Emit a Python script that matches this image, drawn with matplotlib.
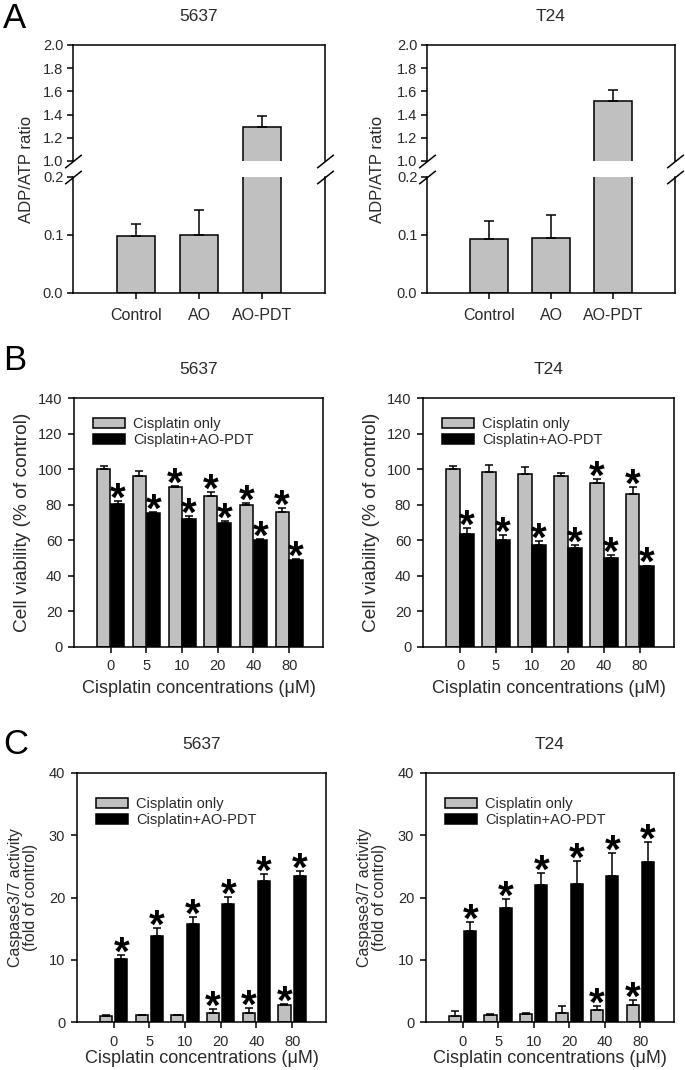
import numpy as np
import matplotlib
matplotlib.use("Agg")
import matplotlib.pyplot as plt

plt.rcParams['font.family'] = ['Liberation Sans', 'DejaVu Sans']

# ---- data ----
a_groups = ['Control', 'AO', 'AO-PDT']
a_5637_mean = [0.098, 0.100, 1.29]
a_5637_err = [0.021, 0.043, 0.095]
a_t24_mean = [0.093, 0.094, 1.52]
a_t24_err = [0.031, 0.040, 0.09]

conc = ['0', '5', '10', '20', '40', '80']
series_names = ['Cisplatin only', 'Cisplatin+AO-PDT']

b_5637_cis = [100.0, 95.9, 90.0, 85.0, 80.0, 75.8]
b_5637_cis_err = [1.5, 3.2, 0.5, 2.0, 0.9, 2.2]
b_5637_combo = [80.3, 75.4, 72.2, 70.0, 60.0, 48.8]
b_5637_combo_err = [1.7, 0.3, 1.5, 0.6, 0.5, 0.5]
b_5637_cis_sig = [False, False, True, True, True, True]
b_5637_combo_sig = [True, True, True, True, True, True]

b_t24_cis = [100.2, 98.5, 97.5, 96.4, 92.3, 86.2]
b_t24_cis_err = [1.5, 4.1, 3.8, 1.7, 2.4, 3.8]
b_t24_combo = [63.8, 60.4, 57.2, 55.7, 50.0, 45.3]
b_t24_combo_err = [3.2, 2.4, 2.2, 1.5, 1.5, 0.5]
b_t24_cis_sig = [False, False, False, False, True, True]
b_t24_combo_sig = [True, True, True, True, True, True]

c_5637_cis = [1.0, 1.05, 1.05, 1.5, 1.5, 2.7]
c_5637_cis_err = [0.05, 0.1, 0.1, 0.65, 0.75, 0.15]
c_5637_combo = [10.1, 13.8, 15.7, 19.0, 22.6, 23.4]
c_5637_combo_err = [0.6, 1.3, 1.2, 1.1, 1.2, 0.8]
c_5637_cis_sig = [False, False, False, True, True, True]
c_5637_combo_sig = [True, True, True, True, True, True]

c_t24_cis = [1.0, 1.2, 1.3, 1.5, 2.0, 2.7]
c_t24_cis_err = [0.7, 0.1, 0.2, 1.0, 0.5, 0.8]
c_t24_combo = [14.6, 18.3, 22.0, 22.2, 23.5, 25.7]
c_t24_combo_err = [1.4, 1.5, 2.0, 3.7, 3.7, 3.2]
c_t24_cis_sig = [False, False, False, False, True, True]
c_t24_combo_sig = [True, True, True, True, True, True]

W, H = 685, 1070
GRAY = '#c0c0c0'
TXT = '#2a2a2a'
LW = 1.1

fig = plt.figure(figsize=(W / 100, H / 100), dpi=100)


def px_axes(l, t, r, b):
    return fig.add_axes([l / W, 1 - b / H, (r - l) / W, (b - t) / H])


def style(ax, fs=10, xpad=5, ypad=4):
    for s in ax.spines.values():
        s.set_linewidth(LW)
    ax.tick_params(direction='out', width=LW, length=4, labelsize=fs,
                   labelcolor=TXT)
    ax.tick_params(axis='x', pad=xpad)
    ax.tick_params(axis='y', pad=ypad)


def add_star(ax, x, y):
    ax.annotate('*', xy=(x, y), xytext=(0, -7), textcoords='offset points',
                ha='center', va='baseline', fontsize=29, fontweight='bold',
                color='black', annotation_clip=False)


def panel_a(l, r, mean, err, title, ylab_x):
    top, brk1, brk2, bot = 45, 161, 177, 293
    ax_hi = px_axes(l, top, r, brk1)
    ax_lo = px_axes(l, brk2, r, bot)
    x = np.arange(1, 4)
    for ax in (ax_hi, ax_lo):
        ax.bar(x, mean, width=0.61, color=GRAY, edgecolor='black', linewidth=LW,
               yerr=[np.zeros(3), err], capsize=3.6,
               error_kw=dict(elinewidth=LW, capthick=LW, ecolor='black'))
        ax.set_xlim(0, 4)
        style(ax, 10.5, xpad=7, ypad=3)
    ax_hi.set_ylim(1.0, 2.0)
    ax_hi.set_yticks(np.arange(1.0, 2.01, 0.2))
    ax_hi.yaxis.set_major_formatter(matplotlib.ticker.FormatStrFormatter('%.1f'))
    ax_hi.spines['bottom'].set_visible(False)
    ax_hi.tick_params(axis='x', bottom=False, labelbottom=False)
    ax_lo.set_ylim(0.0, 0.2)
    ax_lo.set_yticks([0.0, 0.1, 0.2])
    ax_lo.yaxis.set_major_formatter(matplotlib.ticker.FormatStrFormatter('%.1f'))
    ax_lo.spines['top'].set_visible(False)
    ax_lo.set_xticks(x)
    ax_lo.set_xticklabels(a_groups, fontsize=11.5)
    # break marks
    kw = dict(marker=[(-1, -0.8), (1, 0.8)], markersize=12, linestyle='none',
              color='k', mec='k', mew=LW, clip_on=False)
    ax_hi.plot([0, 1], [0, 0], transform=ax_hi.transAxes, **kw)
    ax_lo.plot([0, 1], [1, 1], transform=ax_lo.transAxes, **kw)
    ax_hi.set_title(title, fontsize=12.5, color=TXT, pad=17)
    fig.text(ylab_x / W, 1 - 169 / H, 'ADP/ATP ratio', rotation=90,
             ha='center', va='center', fontsize=12, color=TXT)


def panel_grouped(l, t, r, b, cis, cis_err, combo, combo_err, cis_sig, combo_sig,
                  title, ylim, yticks, ylabel, ylfs, labelpad, width, off, leg_y,
                  xlabelpad):
    ax = px_axes(l, t, r, b)
    x = np.arange(len(conc))
    ax.bar(x - off, cis, width=width, color=GRAY, edgecolor='black', linewidth=LW,
           yerr=[np.zeros(len(x)), cis_err], capsize=3,
           error_kw=dict(elinewidth=LW, capthick=LW, ecolor='black'),
           label=series_names[0])
    ax.bar(x + off, combo, width=width, color='black', edgecolor='black', linewidth=LW,
           yerr=[np.zeros(len(x)), combo_err], capsize=3,
           error_kw=dict(elinewidth=LW, capthick=LW, ecolor='black'),
           label=series_names[1])
    for i in range(len(x)):
        if cis_sig[i]:
            add_star(ax, x[i] - off, cis[i] + cis_err[i])
        if combo_sig[i]:
            add_star(ax, x[i] + off, combo[i] + combo_err[i])
    ax.set_xlim(-1.03, 5.95)
    ax.set_ylim(*ylim)
    ax.set_yticks(yticks)
    ax.set_xticks(x)
    ax.set_xticklabels(conc)
    style(ax, 10.5, xpad=5, ypad=4.5)
    ax.set_xlabel('Cisplatin concentrations (\u03bcM)', fontsize=13, color=TXT,
                  labelpad=xlabelpad)
    ax.set_ylabel(ylabel, fontsize=ylfs, color=TXT, labelpad=labelpad,
                  linespacing=1.0)
    ax.set_title(title, fontsize=12.5, color=TXT, pad=17)
    ax.legend(loc='upper left', bbox_to_anchor=(0.0, leg_y), frameon=False,
              fontsize=10.5, handlelength=2.2, handleheight=0.75,
              labelspacing=0.15, handletextpad=0.55, borderaxespad=0.9,
              labelcolor=TXT)
    return ax


# Panel A
panel_a(73, 325, a_5637_mean, a_5637_err, '5637', 27)
panel_a(427, 675, a_t24_mean, a_t24_err, 'T24', 377)

# Panel B
panel_grouped(74, 398, 323, 647, b_5637_cis, b_5637_cis_err, b_5637_combo,
              b_5637_combo_err, b_5637_cis_sig, b_5637_combo_sig, '5637',
              (0, 140), np.arange(0, 141, 20), 'Cell viability (% of control)',
              13.8, 5, 0.37, 0.195, 1.0, 5)
panel_grouped(423, 398, 674, 647, b_t24_cis, b_t24_cis_err, b_t24_combo,
              b_t24_combo_err, b_t24_cis_sig, b_t24_combo_sig, 'T24',
              (0, 140), np.arange(0, 141, 20), 'Cell viability (% of control)',
              13.8, 5, 0.37, 0.195, 1.0, 5)

# Panel C
panel_grouped(77, 773, 326, 1022, c_5637_cis, c_5637_cis_err, c_5637_combo,
              c_5637_combo_err, c_5637_cis_sig, c_5637_combo_sig, '5637',
              (0, 40), np.arange(0, 41, 10), 'Caspase3/7 activity\n(fold of control)',
              11.5, 8, 0.34, 0.215, 0.98, 1)
panel_grouped(426, 773, 674, 1022, c_t24_cis, c_t24_cis_err, c_t24_combo,
              c_t24_combo_err, c_t24_cis_sig, c_t24_combo_sig, 'T24',
              (0, 40), np.arange(0, 41, 10), 'Caspase3/7 activity\n(fold of control)',
              11.5, 8, 0.34, 0.215, 0.98, 1)

# panel letters
for letter, y in [('A', 18), ('B', 361), ('C', 744)]:
    fig.text(3 / W, 1 - y / H, letter, fontsize=25, ha='left', va='center')

fig.savefig('out.png', dpi=100)
